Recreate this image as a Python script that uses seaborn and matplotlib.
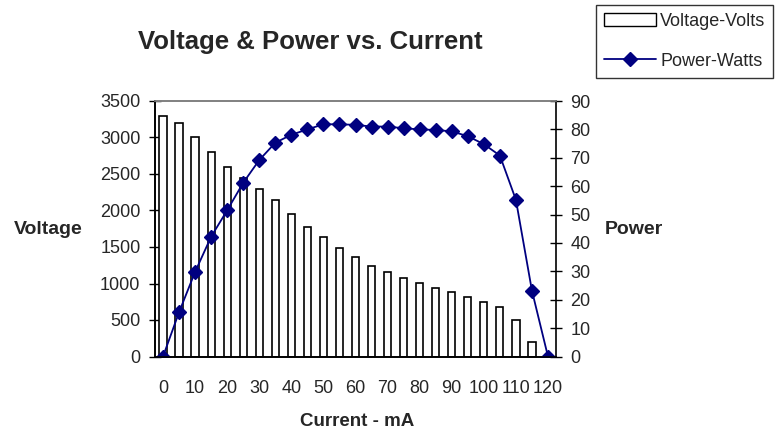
import pandas as pd
import numpy as np
import matplotlib
matplotlib.use("Agg")
import matplotlib.pyplot as plt
import seaborn as sns
from matplotlib.patches import Patch
from matplotlib.lines import Line2D

# datos
corriente = [str(c) for c in range(0, 125, 5)]
voltaje = [3300, 3200, 3000, 2800, 2600, 2450, 2300, 2150, 1950, 1780, 1640, 1490, 1360,
           1240, 1160, 1070, 1010, 940, 880, 810, 745, 680, 500, 200, 0]
potencia = [0, 15.6, 29.8, 42.2, 51.5, 61.2, 69.2, 75.3, 78.1, 80.0, 81.8, 81.8, 81.6,
            81.0, 81.0, 80.4, 80.0, 79.8, 79.3, 77.6, 74.8, 70.8, 55.2, 23.2, 0]
ticks_volt = list(range(0, 3501, 500))
ticks_pot = list(range(0, 91, 10))

df = pd.DataFrame({'Corriente': corriente, 'Voltaje': voltaje, 'Potencia': potencia})

sns.set_style("white")
plt.rcParams['font.family'] = ['Liberation Sans', 'DejaVu Sans']
fs = 13

fig = plt.figure(figsize=(7.83, 4.34), dpi=100)
ax = fig.add_axes([155 / 783, 1 - 356.5 / 434, 401 / 783, 255.5 / 434])

sns.barplot(data=df, x='Corriente', y='Voltaje', order=corriente, color='white',
            edgecolor='black', linewidth=1.2, width=0.45, saturation=1, ax=ax)
ax.set_ylim(0, 3500)
ax.set_yticks(ticks_volt)
ax.set_yticklabels([str(t) for t in ticks_volt], fontsize=fs)

ax2 = ax.twinx()
sns.pointplot(data=df, x='Corriente', y='Potencia', order=corriente, color='#000080',
              markers='D', markersize=7.5, linewidth=1.3, errorbar=None, ax=ax2)
ax2.set_ylim(0, 90)
ax2.set_yticks(ticks_pot)
ax2.set_yticklabels([str(t) for t in ticks_pot], fontsize=fs)
ax2.set_ylabel('')
ax2.set_xlim(-0.5, len(corriente) - 0.5)
ax.set_xlim(-0.5, len(corriente) - 0.5)

# etiquetas cada dos categorias, ticks entre categorias
ax.set_xticks(range(0, len(corriente), 2))
ax.set_xticklabels(corriente[::2], fontsize=fs)
ax.set_xticks(np.arange(-0.5, len(corriente)), minor=True)
ax.tick_params(axis='x', which='major', length=0, pad=17)
ax.tick_params(axis='x', which='minor', length=9, width=1, color='black', direction='inout')
ax.tick_params(axis='y', length=9, width=1, color='black', direction='inout', left=True, pad=6)
ax2.tick_params(axis='y', length=9, width=1, color='black', direction='inout', right=True, pad=6)

for a in (ax, ax2):
    for s in ['left', 'bottom', 'right']:
        a.spines[s].set_color('black')
        a.spines[s].set_linewidth(1.2)
    a.spines['top'].set_color('#808080')
    a.spines['top'].set_linewidth(1.2)
ax.spines['right'].set_visible(False)

ax.set_xlabel('')
ax.set_ylabel('')
fig.text(357 / 783, 1 - 421 / 434, 'Current - mA', fontsize=13.5, fontweight='bold',
         ha='center', va='center')
fig.text(48 / 783, 1 - 229 / 434, 'Voltage', fontsize=14, fontweight='bold',
         ha='center', va='center')
fig.text(634 / 783, 1 - 229 / 434, 'Power', fontsize=14, fontweight='bold',
         ha='center', va='center')
fig.text(310 / 783, 1 - 42 / 434, 'Voltage & Power vs. Current', fontsize=18.5,
         fontweight='bold', ha='center', va='center')

handles = [Patch(facecolor='white', edgecolor='black', linewidth=1),
           Line2D([0], [0], color='#000080', marker='D', markersize=7.5, linewidth=1.3)]
leg = fig.legend(handles, ['Voltage-Volts', 'Power-Watts'], loc='upper left',
                 bbox_to_anchor=(596 / 783, 1 - 5 / 434), fontsize=fs, frameon=True,
                 fancybox=False, borderpad=0.45, handlelength=2.9, handletextpad=0.2,
                 labelspacing=1.25, borderaxespad=0)
leg.get_frame().set_edgecolor('black')
leg.get_frame().set_linewidth(1)

fig.savefig('out.png', dpi=100)
